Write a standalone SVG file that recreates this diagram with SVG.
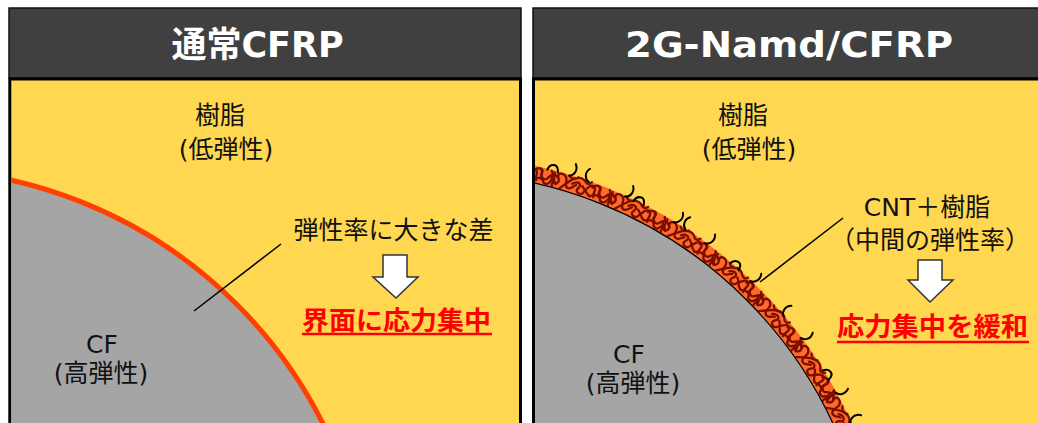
<svg xmlns="http://www.w3.org/2000/svg" xmlns:xlink="http://www.w3.org/1999/xlink" width="1038" height="423" viewBox="0 0 1038 423">
  <style>
    .hdr { fill: #404040; stroke: #111; stroke-width: 1.5; }
    .body { fill: #FFD750; stroke: #000; stroke-width: 3; }
    .title { font-family: 'DejaVu Sans', 'Noto Sans CJK JP', sans-serif; font-weight: bold; font-size: 35px; fill: #fff; }
    .lbl { font-family: 'DejaVu Sans', 'Noto Sans CJK JP', sans-serif; font-size: 25px; fill: #111; }
    .emph { font-family: 'Noto Sans CJK JP', sans-serif; font-weight: bold; font-size: 26px; fill: #FF0000; }
    .uline { stroke: #FF0000; stroke-width: 2.5; }
    .arrow { fill: #fff; stroke: #333; stroke-width: 1.5; stroke-linejoin: miter; }
    .leader { stroke: #000; stroke-width: 1.5; fill: none; }
    .cnt path { fill: none; stroke: #7A0E00; stroke-width: 2.3; stroke-linecap: round; }
    .tuft { fill: none; stroke: #000; stroke-width: 2; stroke-linecap: round; }
  </style>
  <defs>
    <clipPath id="clipL"><rect x="11.3" y="80.5" width="507.2" height="343"/></clipPath>
    <clipPath id="clipR"><rect x="535" y="80.5" width="510" height="343"/></clipPath>
    <!-- CNT network tiles, drawn at the top of the fibre (local origin = fibre centre) -->
    <g id="cntA" class="cnt">
      <path d="M-12,-446 C-9,-451 -3,-451 -4,-446 C-5,-441 1,-438 3,-442 C5,-446 9,-449 12,-445"/>
      <path d="M-11,-437 C-7,-441 -2,-441 -1,-438 C0,-435 5,-435 6,-439 C7,-442 10,-441 12,-438"/>
      <path d="M-6,-449 C-1,-447 -7,-441 -2,-440"/>
      <path d="M5,-450 C9,-447 4,-444 8,-441 C10,-439 7,-436 9,-435"/>
    </g>
    <g id="cntB" class="cnt">
      <path d="M-12,-440 C-8,-436 -4,-441 -7,-445 C-10,-449 -4,-452 0,-448 C3,-445 0,-440 4,-438 C8,-436 10,-442 12,-443"/>
      <path d="M-3,-435 C0,-439 5,-446 9,-449"/>
      <path d="M3,-450 C6,-447 10,-448 12,-451"/>
      <path d="M-12,-449 C-10,-446 -13,-443 -10,-441"/>
    </g>
    <g id="cntC" class="cnt">
      <path d="M-12,-443 C-8,-448 -2,-446 -5,-441 C-8,-436 -1,-434 1,-438 C3,-443 6,-450 10,-447 C13,-445 10,-440 12,-437"/>
      <path d="M-9,-450 C-6,-452 -2,-451 0,-449 C2,-447 5,-448 6,-451"/>
      <path d="M-2,-444 C2,-442 4,-438 8,-437"/>
    </g>
    <!-- CNT ends sticking out of the coating -->
    <path id="tuftA" class="tuft" d="M-2,-450 C3,-452 5,-458 1,-463"/>
    <path id="tuftB" class="tuft" d="M2,-450 C-3,-452 -5,-458 -1,-463"/>
    <path id="tuftC" class="tuft" d="M-5,-450 C-4,-457 3,-458 5,-453 L6,-450"/>
  </defs>

  <!-- Left panel: conventional CFRP -->
  <g id="panel-conventional">
    <rect class="hdr" x="9" y="8" width="512" height="70"/>
    <text class="title" x="257.5" y="57" text-anchor="middle">通常CFRP</text>
    <rect class="body" x="9.8" y="79" width="510.7" height="360"/>
    <g id="fiber-conventional" clip-path="url(#clipL)">
      <circle cx="-90" cy="631" r="462" fill="#A5A5A5" stroke="#FF4000" stroke-width="5"/>
    </g>
  </g>
  <g id="label-resin-l">
    <text class="lbl" x="220" y="124" text-anchor="middle">樹脂</text>
    <text class="lbl" x="226" y="158" text-anchor="middle">(低弾性)</text>
  </g>
  <g id="label-cf-l">
    <text class="lbl" x="102" y="353" text-anchor="middle">CF</text>
    <text class="lbl" x="101" y="382" text-anchor="middle">(高弾性)</text>
  </g>
  <g id="label-gap">
    <text class="lbl" x="393.5" y="239" text-anchor="middle">弾性率に大きな差</text>
  </g>
  <g id="result-l">
    <polygon class="arrow" points="383,255 407,255 407,277 418,277 396,298 373,277 383,277"/>
    <text class="emph" x="302" y="330" textLength="189" lengthAdjust="spacingAndGlyphs">界面に応力集中</text>
    <line class="uline" x1="302" y1="334" x2="492" y2="334"/>
  </g>

  <!-- Right panel: 2G-Namd/CFRP -->
  <g id="panel-namd">
    <rect class="hdr" x="533" y="8" width="520" height="70"/>
    <text class="title" x="625" y="57" textLength="328" lengthAdjust="spacingAndGlyphs">2G-Namd/CFRP</text>
    <rect class="body" x="533.5" y="79" width="520" height="360"/>
    <g id="fiber-namd" clip-path="url(#clipR)">
      <circle cx="439.5" cy="606.6" r="442.5" fill="none" stroke="#FF6A28" stroke-width="17"/>
      <circle cx="439.5" cy="606.6" r="434" fill="#A5A5A5" stroke="#000" stroke-width="1.3"/>
      <g id="cnt-network" transform="translate(439.5,606.6)">
        <use xlink:href="#cntA" transform="rotate(6)"/>
        <use xlink:href="#cntB" transform="rotate(8.6)"/>
        <use xlink:href="#cntC" transform="rotate(11.2)"/>
        <use xlink:href="#cntA" transform="rotate(13.8)"/>
        <use xlink:href="#cntB" transform="rotate(16.4)"/>
        <use xlink:href="#cntC" transform="rotate(19)"/>
        <use xlink:href="#cntA" transform="rotate(21.6)"/>
        <use xlink:href="#cntB" transform="rotate(24.2)"/>
        <use xlink:href="#cntC" transform="rotate(26.8)"/>
        <use xlink:href="#cntA" transform="rotate(29.4)"/>
        <use xlink:href="#cntB" transform="rotate(32)"/>
        <use xlink:href="#cntC" transform="rotate(34.6)"/>
        <use xlink:href="#cntA" transform="rotate(37.2)"/>
        <use xlink:href="#cntB" transform="rotate(39.8)"/>
        <use xlink:href="#cntC" transform="rotate(42.4)"/>
        <use xlink:href="#cntA" transform="rotate(45)"/>
        <use xlink:href="#cntB" transform="rotate(47.6)"/>
        <use xlink:href="#cntC" transform="rotate(50.2)"/>
        <use xlink:href="#cntA" transform="rotate(52.8)"/>
        <use xlink:href="#cntB" transform="rotate(55.4)"/>
        <use xlink:href="#cntC" transform="rotate(58)"/>
        <use xlink:href="#cntA" transform="rotate(60.6)"/>
        <use xlink:href="#cntB" transform="rotate(63.2)"/>
        <use xlink:href="#cntC" transform="rotate(65.8)"/>
        <use xlink:href="#cntA" transform="rotate(68.4)"/>
        <use xlink:href="#cntB" transform="rotate(71)"/>
        <use xlink:href="#tuftC" transform="rotate(14.5)"/>
        <use xlink:href="#tuftA" transform="rotate(17)"/>
        <use xlink:href="#tuftB" transform="rotate(19.1)"/>
        <use xlink:href="#tuftA" transform="rotate(24.6)"/>
        <use xlink:href="#tuftC" transform="rotate(26.2)"/>
        <use xlink:href="#tuftA" transform="rotate(31.6)"/>
        <use xlink:href="#tuftB" transform="rotate(32.9)"/>
        <use xlink:href="#tuftA" transform="rotate(36.4)"/>
        <use xlink:href="#tuftC" transform="rotate(40.9)"/>
        <use xlink:href="#tuftA" transform="rotate(43.9)"/>
        <use xlink:href="#tuftB" transform="rotate(49.6)"/>
        <use xlink:href="#tuftA" transform="rotate(53.6)"/>
        <use xlink:href="#tuftC" transform="rotate(59)"/>
        <use xlink:href="#tuftA" transform="rotate(61.8)"/>
        <use xlink:href="#tuftB" transform="rotate(65.7)"/>
      </g>
    </g>
  </g>
  <g id="label-resin-r">
    <text class="lbl" x="743" y="124" text-anchor="middle">樹脂</text>
    <text class="lbl" x="749" y="158" text-anchor="middle">(低弾性)</text>
  </g>
  <g id="label-cf-r">
    <text class="lbl" x="629" y="363" text-anchor="middle">CF</text>
    <text class="lbl" x="633" y="392" text-anchor="middle">(高弾性)</text>
  </g>
  <g id="label-coating">
    <text class="lbl" x="927" y="216" text-anchor="middle">CNT＋樹脂</text>
    <text class="lbl" x="930" y="249" text-anchor="middle">（中間の弾性率）</text>
  </g>
  <g id="result-r">
    <polygon class="arrow" points="918,260 942,260 942,280 953,280 930,302 908,280 918,280"/>
    <text class="emph" x="837" y="336" textLength="191" lengthAdjust="spacingAndGlyphs">応力集中を緩和</text>
    <line class="uline" x1="837" y1="342" x2="1029" y2="342"/>
  </g>

  <!-- Leader lines -->
  <g id="connectors">
    <line class="leader" x1="194" y1="311" x2="281" y2="244"/>
    <line class="leader" x1="760" y1="282" x2="843" y2="218"/>
  </g>
</svg>
